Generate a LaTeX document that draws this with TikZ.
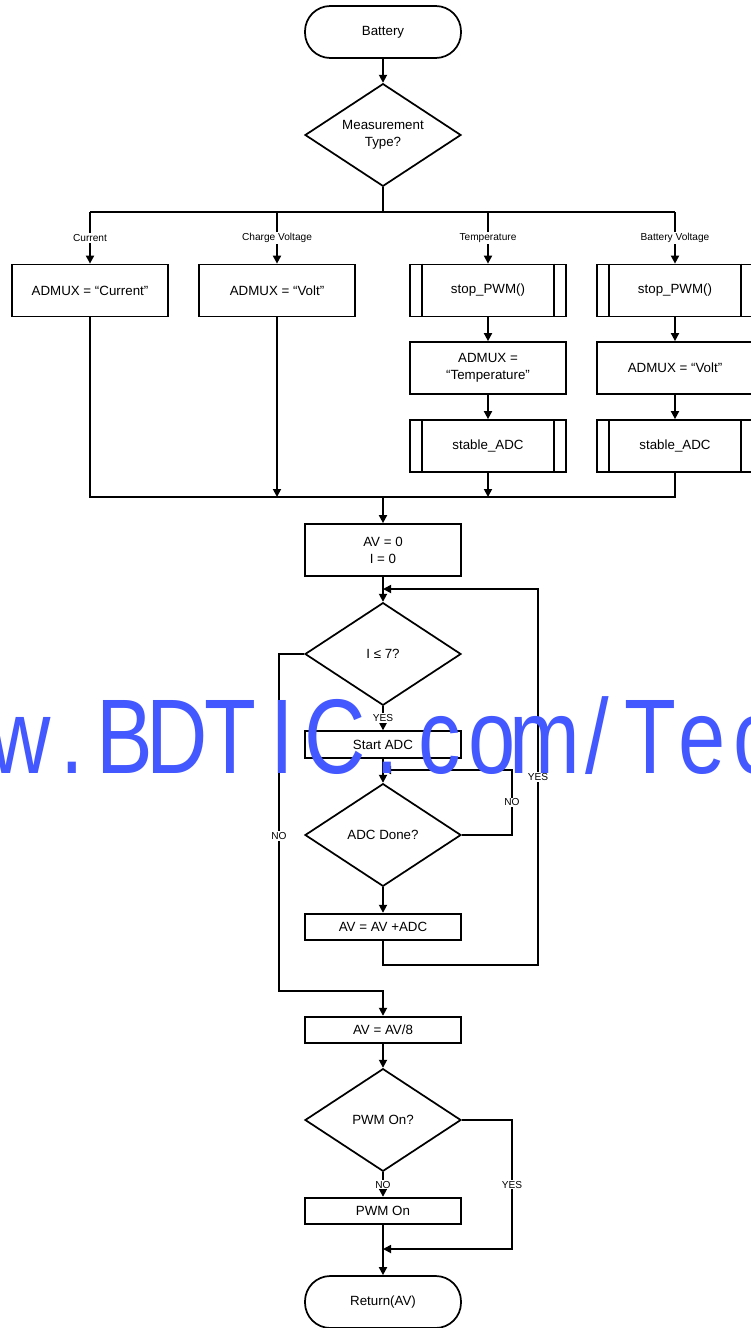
\documentclass[tikz,border=0pt]{standalone}
\usepackage{fontspec}
\setmainfont{Liberation Sans}
\usetikzlibrary{shapes.geometric, arrows.meta}
\definecolor{wmblue}{RGB}{68,88,255}
\tikzset{
    base/.style={draw, line width=1.3pt, align=center, inner sep=1pt, font=\fontsize{10}{12.75}\selectfont},
    term/.style={base, rectangle, rounded corners=19pt, minimum width=117pt, minimum height=39pt},
    proc/.style={base, rectangle, minimum width=117pt, minimum height=39pt},
    subproc/.style={proc},
    flat/.style={base, rectangle, minimum width=117pt, minimum height=20pt},
    decide/.style={base, diamond, shape aspect=1.5, minimum width=117pt, minimum height=77pt},
    lbl/.style={fill=white, inner sep=1pt, font=\fontsize{7.6}{8}\selectfont},
    wire/.style={line width=1.3pt},
    flow/.style={wire, -{Triangle[length=6pt,width=6pt]}},
    wm/.style={text=wmblue, inner sep=0pt, anchor=base, xscale=0.8, font=\fontsize{79.6}{80}\selectfont}
}

\begin{document}
\begin{tikzpicture}[x=0.75pt, y=-0.75pt]
            \useasboundingbox (0,0) rectangle (750,1328);
            \node[term] (bat) at (383,32) {Battery};
            \node[decide] (mtype) at (383,135) {Measurement\\Type?};
            \node[proc] (mcur) at (90,290.5) {ADMUX = “Current”};
            \node[proc] (mchg) at (277,290.5) {ADMUX = “Volt”};
            \node[subproc] (stopt) at (488,290.5) {stop\_PWM()};
            \node[subproc] (stopb) at (675,290.5) {stop\_PWM()};
            \node[proc] (mtmp) at (488,368) {ADMUX =\\“Temperature”};
            \node[proc] (mbat) at (675,368) {ADMUX = “Volt”};
            \node[subproc] (stabt) at (488,446) {stable\_ADC};
            \node[subproc] (stabb) at (675,446) {stable\_ADC};
            \node[proc] (init) at (383,550) {AV = 0\\I = 0};
            \node[decide] (cnt) at (383,654) {I ≤ 7?};
            \node[flat] (start) at (383,744.5) {Start ADC};
            \node[decide] (done) at (383,835) {ADC Done?};
            \node[flat] (acc) at (383,927) {AV = AV +ADC};
            \node[flat] (avg) at (383,1030) {AV = AV/8};
            \node[decide] (pwm) at (383,1120) {PWM On?};
            \node[flat] (pwmon) at (383,1211) {PWM On};
            \node[term] (ret) at (383,1302) {Return(AV)};
            \coordinate (split) at (383,212);
            \coordinate (merge) at (383,497);
            \coordinate (loop) at (383,589);
            \coordinate (wait) at (383,770);
            \coordinate (noturn) at (512,770);
            \coordinate (lowback) at (538,965);
            \coordinate (highback) at (538,589);
            \coordinate (skip) at (279,991);
            \coordinate (exit) at (383,991);
            \coordinate (yesturn) at (512,1249);
            \coordinate (join) at (383,1249);
            \draw[wire] ([xshift=9.75pt]stopt.north west) -- ([xshift=9.75pt]stopt.south west);
            \draw[wire] ([xshift=-9.75pt]stopt.north east) -- ([xshift=-9.75pt]stopt.south east);
            \draw[wire] ([xshift=9.75pt]stopb.north west) -- ([xshift=9.75pt]stopb.south west);
            \draw[wire] ([xshift=-9.75pt]stopb.north east) -- ([xshift=-9.75pt]stopb.south east);
            \draw[wire] ([xshift=9.75pt]stabt.north west) -- ([xshift=9.75pt]stabt.south west);
            \draw[wire] ([xshift=-9.75pt]stabt.north east) -- ([xshift=-9.75pt]stabt.south east);
            \draw[wire] ([xshift=9.75pt]stabb.north west) -- ([xshift=9.75pt]stabb.south west);
            \draw[wire] ([xshift=-9.75pt]stabb.north east) -- ([xshift=-9.75pt]stabb.south east);
            \draw[flow] (bat) -- (mtype);
            \draw[wire] (mtype) -- (split);
            \draw[wire] (mcur.north |- split) -- (stopb.north |- split);
            \draw[flow] (mcur.north |- split) -- node[lbl]{Current} (mcur);
            \draw[flow] (mchg.north |- split) -- node[lbl]{Charge Voltage} (mchg);
            \draw[flow] (stopt.north |- split) -- node[lbl]{Temperature} (stopt);
            \draw[flow] (stopb.north |- split) -- node[lbl]{Battery Voltage} (stopb);
            \draw[flow] (stopt) -- (mtmp);
            \draw[flow] (mtmp) -- (stabt);
            \draw[flow] (stopb) -- (mbat);
            \draw[flow] (mbat) -- (stabb);
            \draw[wire] (mcur) |- (merge) -| (stabb);
            \draw[flow] (mchg) -- (mchg |- merge);
            \draw[flow] (stabt) -- (stabt |- merge);
            \draw[flow] (merge) -- (init);
            \draw[flow] (init) -- (cnt);
            \draw[flow] (cnt) -- node[lbl]{YES} (start);
            \draw[flow] (start) -- (done);
            \draw[flow] (done) -- (acc);
            \draw[flow] (done.east) -| node[lbl, pos=0.75]{NO} (noturn) -- (wait);
            \draw[flow] (acc) |- (lowback) -- node[lbl]{YES} (highback) -- (loop);
            \draw[flow] (cnt.west) -| node[lbl, pos=0.77]{NO} (skip) -- (exit) -- (avg);
            \draw[flow] (avg) -- (pwm);
            \draw[flow] (pwm) -- node[lbl]{NO} (pwmon);
            \draw[flow] (pwm.east) -| node[lbl, pos=0.75]{YES} (yesturn) -- (join);
            \draw[flow] (pwmon) -- (ret);
            \node[wm] (wm1) at (20,773) {w};
            \node[wm] (wm2) at (72.5,773) {.};
            \node[wm] (wm3) at (125,773) {B};
            \node[wm] (wm4) at (177.5,773) {D};
            \node[wm] (wm5) at (230,773) {T};
            \node[wm] (wm6) at (282.5,773) {I};
            \node[wm] (wm7) at (335,773) {C};
            \node[wm] (wm8) at (387.5,773) {.};
            \node[wm] (wm9) at (440,773) {c};
            \node[wm] (wm10) at (492.5,773) {o};
            \node[wm] (wm11) at (545,773) {m};
            \node[wm] (wm12) at (597.5,773) {/};
            \node[wm] (wm13) at (650,773) {T};
            \node[wm] (wm14) at (702.5,773) {e};
            \node[wm] (wm15) at (755,773) {c};
        \end{tikzpicture}
\end{document}
